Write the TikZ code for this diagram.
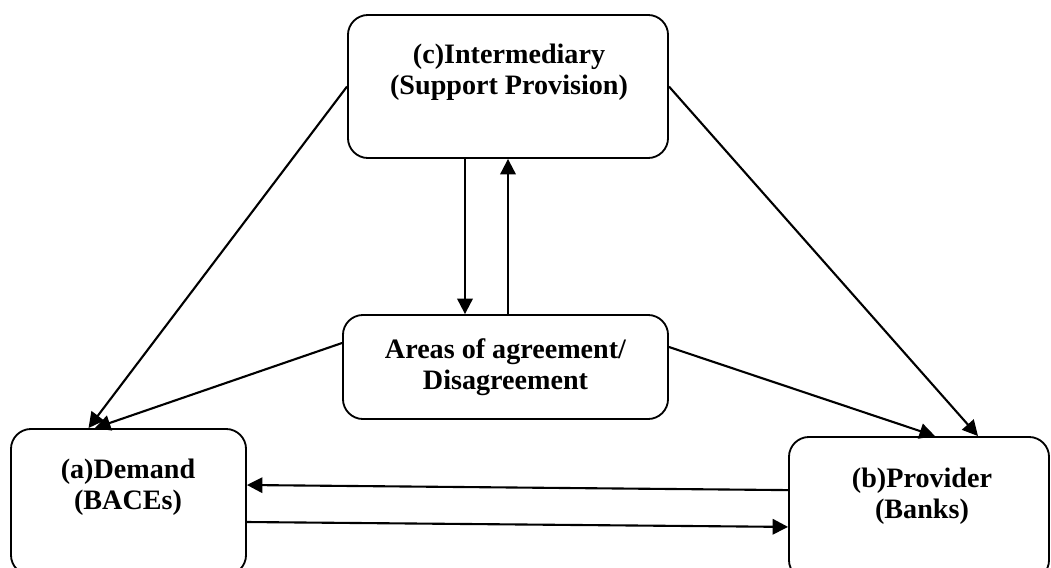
\documentclass[tikz,border=0pt]{standalone}
\usepackage{fontspec}
\setmainfont{Liberation Serif}
\usetikzlibrary{arrows.meta,calc}
\begin{document}
\begin{tikzpicture}[x=0.025cm, y=-0.025cm, line width=1.2pt,
		box/.style={draw, rounded corners=0.5cm, line width=1.3pt},
		lbl/.style={align=center, font=\fontsize{20}{22}\selectfont\bfseries, inner sep=0pt},
		link/.style={-{Triangle[length=11pt,width=11pt]}, line width=1.5pt}]
			\useasboundingbox (0,0) rectangle (1051,567);
			\clip (0,0) rectangle (1051,567);
			\node [box, minimum width=8cm, minimum height=3.575cm] (inter) at (508,86.5) {};
			\node [box, minimum width=8.125cm, minimum height=2.6cm] (areas) at (505.5,367) {};
			\node [box, minimum width=5.875cm, minimum height=3.65cm] (demand) at (128.5,502) {};
			\node [box, minimum width=6.5cm, minimum height=3.575cm] (provider) at (919,508.5) {};
			\node [lbl] (intertxt) at (509,72.5) {(c)Intermediary\\(Support Provision)};
			\node [lbl] (areastxt) at (505.5,367.5) {Areas of agreement/\\Disagreement};
			\node [lbl] (demandtxt) at (128,487.5) {(a)Demand\\(BACEs)};
			\node [lbl] (providertxt) at (922,496) {(b)Provider\\(Banks)};
			\draw [link] (inter.west) -- ([xshift=-1cm]demand.north);
			\draw [link] (inter.east) -- ([xshift=1.475cm]provider.north);
			\draw [link] ([xshift=-1.075cm]inter.south) -- ([xshift=-1.075cm]inter.south |- areas.north);
			\draw [link] (inter.south |- areas.north) -- (inter.south);
			\draw [link] ([yshift=0.6cm]areas.west) -- ([xshift=-0.84cm]demand.north);
			\draw [link] ([yshift=0.5cm]areas.east) -- ([xshift=0.4cm]provider.north);
			\draw [link] ([yshift=0.46cm]provider.west) -- ([yshift=0.425cm]demand.east);
			\draw [link] ([yshift=-0.5cm]demand.east) -- ([yshift=-0.46cm]provider.west);
			%\draw (areas) -- (demand);
		\end{tikzpicture}
\end{document}
